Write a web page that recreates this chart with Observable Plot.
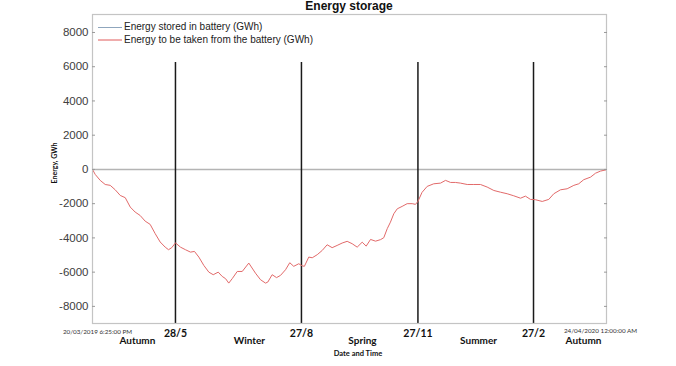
<!DOCTYPE html>
<html><head><meta charset="utf-8">
<script src="https://cdn.jsdelivr.net/npm/d3@7"></script>
<script src="https://cdn.jsdelivr.net/npm/@observablehq/plot@0.6"></script>
<style>body{margin:0;background:#fff}</style>
</head><body><div id="chart"></div>
<script>
const titleText = "Energy storage";
const yAxisTitle = "Energy, GWh";
const xAxisTitle = "Date and Time";
const startTime = "2019-03-20T18:25:00Z";
const endTime = "2020-04-24T00:00:00Z";
const endLabels = ["20/03/2019 6:25:00 PM", "24/04/2020 12:00:00 AM"];
const legendLabels = ["Energy stored in battery (GWh)", "Energy to be taken from the battery (GWh)"];
const yTicks = [-8000, -6000, -4000, -2000, 0, 2000, 4000, 6000, 8000];

// days since start
const dayOffsets = [0, 2.1, 6.0, 9.9, 13.8, 17.7, 21.6, 25.5, 29.4, 33.2, 37.1, 41.0, 44.9, 48.8, 52.7, 56.6, 59.2, 61.7, 64.6, 68.5,
  72.4, 76.3, 79.4, 82.8, 86.7, 90.6, 94.0, 97.9, 101.0, 103.6, 106.1, 108.8, 112.7, 116.6, 121.7, 126.9, 130.8, 134.7, 136.5, 139.9,
  143.3, 146.4, 150.3, 153.6, 156.7, 160.6, 163.3, 165.0, 168.4, 171.1, 175.0, 178.9, 182.7, 186.6, 190.5, 194.4, 198.3, 202.2, 206.1, 210.0,
  213.1, 216.5, 220.4, 224.3, 226.8, 229.5, 232.0, 234.6, 237.3, 241.1, 245.0, 248.9, 251.5, 253.4, 256.6, 260.6, 265.7, 271.0, 274.9, 278.8,
  282.6, 286.5, 291.8, 296.9, 302.1, 307.3, 312.5, 317.7, 322.9, 328.0, 333.3, 337.1, 341.0, 344.9, 350.2, 355.3, 359.2, 364.4, 369.6, 374.8,
  378.6, 382.5, 387.8, 391.7, 395.5, 400.0];
const energyToTake = [0, -290, -640, -880, -930, -1190, -1520, -1650, -2200, -2490, -2690, -3020, -3210, -3750, -4240, -4540, -4690, -4570, -4290, -4540,
  -4690, -4830, -4790, -5120, -5610, -6000, -6150, -6000, -6250, -6380, -6640, -6380, -5960, -5960, -5470, -6060, -6440, -6640, -6580, -6150,
  -6320, -6190, -5860, -5450, -5660, -5510, -5630, -5660, -5120, -5160, -4980, -4730, -4400, -4570, -4440, -4300, -4200, -4340, -4540, -4250,
  -4480, -4090, -4190, -4100, -3990, -3460, -3080, -2590, -2300, -2160, -2000, -2000, -2040, -1870, -1340, -990, -840, -800, -640, -760,
  -760, -800, -880, -880, -880, -1030, -1230, -1330, -1420, -1540, -1680, -1560, -1750, -1770, -1870, -1750, -1420, -1190, -1130, -930,
  -840, -600, -450, -220, -100, -20];

const markerDays = [64.6, 162.7, 253.4, 343.4];
const markerLabels = ["28/5", "27/8", "27/11", "27/2"];
const markerTop = 6250;
const seasonDays = [35.0, 122.2, 210.2, 300.6, 382.3];
const seasonLabels = ["Autumn", "Winter", "Spring", "Summer", "Autumn"];

const t0 = new Date(startTime), t1 = new Date(endTime);
const toDate = d => new Date(t0.getTime() + d * 864e5);
const series = dayOffsets.map((d, i) => ({date: toDate(d), value: energyToTake[i]}));
const markers = markerDays.map((d, i) => ({date: toDate(d), label: markerLabels[i]}));
const seasons = seasonDays.map((d, i) => ({date: toDate(d), label: seasonLabels[i]}));
const yMin = -9000, yMax = 9050;

const W = 676, H = 366, ML = 92, MR = 70, MT = 14, MB = 43;
const sans = "Liberation Sans, Arial, sans-serif";
const calib = "Lato, 'Open Sans', sans-serif";

const chart = Plot.plot({
  width: W, height: H,
  marginLeft: ML, marginRight: MR, marginTop: MT, marginBottom: MB,
  style: {fontFamily: sans, background: "#fff", overflow: "visible"},
  x: {type: "utc", domain: [t0, t1], axis: null},
  y: {domain: [yMin, yMax], axis: null},
  marks: [
    Plot.ruleY([0], {stroke: "#b4b4b4", strokeWidth: 1.5}),
    Plot.ruleX(markers, {x: "date", y1: yMin, y2: markerTop, stroke: "#1a1a1a", strokeWidth: 1.5}),
    Plot.line(series, {x: "date", y: "value", stroke: "#e26a6a", strokeWidth: 1}),
    Plot.frame({stroke: "#c4c4c4", strokeWidth: 1.2}),
    Plot.axisY({ticks: yTicks, anchor: "left", tickSize: 0, tickPadding: 4, label: null, fontSize: 11.5, color: "#404040", tickFormat: d => d < 0 ? "-" + Math.abs(d) : String(d)}),
    Plot.axisY({ticks: yTicks, anchor: "left", tickSize: 3, text: null, dx: 3, label: null, stroke: "#9a9a9a"}),
    Plot.axisY({ticks: yTicks, anchor: "right", tickSize: 3, text: null, dx: -3, label: null, stroke: "#9a9a9a"}),
    Plot.text(markers, {x: "date", text: "label", frameAnchor: "bottom", lineAnchor: "middle", dy: 10, fontWeight: "bold", fontSize: 10.5, fontFamily: calib, fill: "#111"}),
    Plot.text(seasons, {x: "date", text: "label", frameAnchor: "bottom", lineAnchor: "middle", dy: 17, fontWeight: "bold", fontSize: 10, fontFamily: calib, fill: "#111"}),
    Plot.text([t0], {x: d => d, text: () => endLabels[0], frameAnchor: "bottom", lineAnchor: "middle", dy: 8, dx: 5, fontSize: 6.3, fontFamily: calib, fill: "#333"}),
    Plot.text([t1], {x: d => d, text: () => endLabels[1], frameAnchor: "bottom", lineAnchor: "middle", dy: 7, dx: -6, fontSize: 6.3, fontFamily: calib, fill: "#333"})
  ]
});
document.getElementById("chart").appendChild(chart);

const svg = d3.select(chart);
// title
svg.append("text").attr("x", (ML + W - MR) / 2).attr("y", 10).attr("text-anchor", "middle")
  .attr("font-family", sans).attr("font-weight", "bold").attr("font-size", 12).attr("fill", "#111").text(titleText);
// y axis title
svg.append("text").attr("transform", `translate(55,163) rotate(-90)`).attr("text-anchor", "middle")
  .attr("dominant-baseline", "middle")
  .attr("font-family", calib).attr("font-weight", "bold").attr("font-size", 7).attr("fill", "#111").text(yAxisTitle);
// x axis title
svg.append("text").attr("x", 358).attr("y", 356).attr("text-anchor", "middle")
  .attr("font-family", calib).attr("font-weight", "bold").attr("font-size", 7.5).attr("fill", "#111").text(xAxisTitle);
// legend
const legColors = ["#8fa6bd", "#e05a5a"];
const legY = [27.5, 40];
legendLabels.forEach((lab, i) => {
  svg.append("line").attr("x1", 98).attr("x2", 122).attr("y1", legY[i]).attr("y2", legY[i])
    .attr("stroke", legColors[i]).attr("stroke-width", 1);
  svg.append("text").attr("x", 124).attr("y", legY[i]).attr("text-anchor", "start").attr("dominant-baseline", "middle")
    .attr("font-family", sans).attr("font-size", 10).attr("fill", "#222").text(lab);
});
</script></body></html>
